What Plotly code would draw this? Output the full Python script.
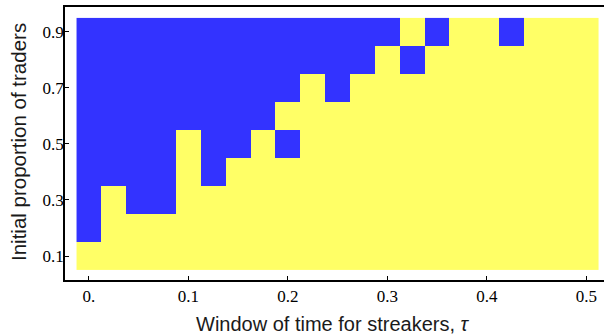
import plotly.graph_objects as go

# Data
tau = [round(i * 0.025, 3) for i in range(21)]          # window of time for streakers
proportion = [0.1, 0.2, 0.3, 0.4, 0.5, 0.6, 0.7, 0.8, 0.9]  # initial proportion of traders

# outcome per row (1 = blue, 0 = yellow), columns follow tau
row_01 = [0] * 21
row_02 = [1] + [0] * 20
row_03 = [1, 0, 1, 1] + [0] * 17
row_04 = [1, 1, 1, 1, 0, 1] + [0] * 15
row_05 = [1, 1, 1, 1, 0, 1, 1, 0, 1] + [0] * 12
row_06 = [1] * 8 + [0] * 13
row_07 = [1] * 9 + [0, 1] + [0] * 10
row_08 = [1] * 12 + [0, 1] + [0] * 7
row_09 = [1] * 13 + [0, 1, 0, 0, 1, 0, 0, 0]

x_tickvals = [0, 0.1, 0.2, 0.3, 0.4, 0.5]
x_ticktext = ["0.", "0.1", "0.2", "0.3", "0.4", "0.5"]
y_tickvals = [0.1, 0.3, 0.5, 0.7, 0.9]
y_ticktext = ["0.1", "0.3", "0.5", "0.7", "0.9"]

z = [row_01, row_02, row_03, row_04, row_05, row_06, row_07, row_08, row_09]

BLUE = "#3333FF"
YELLOW = "#FFFF66"

fig = go.Figure(go.Heatmap(
    x=tau, y=proportion, z=z,
    colorscale=[[0, YELLOW], [0.5, YELLOW], [0.5, BLUE], [1, BLUE]],
    zmin=0, zmax=1, showscale=False, hoverinfo="skip",
))

tickfont = dict(family="Liberation Serif, Times New Roman, serif", size=17, color="#000000")

fig.update_layout(
    width=604, height=335,
    margin=dict(l=65, r=0, t=7, b=55, autoexpand=False),
    paper_bgcolor="white", plot_bgcolor="white",
    showlegend=False,
    xaxis=dict(
        range=[-0.0241, 0.5176], tickvals=x_tickvals, ticktext=x_ticktext,
        ticks="inside", ticklen=4, tickwidth=1, tickcolor="#000000",
        showline=True, linecolor="#000000", linewidth=1.6, mirror=True,
        showgrid=False, zeroline=False, tickfont=tickfont, automargin=False,
    ),
    yaxis=dict(
        range=[0.0143, 0.989], tickvals=y_tickvals, ticktext=y_ticktext,
        ticks="inside", ticklen=4, tickwidth=1, tickcolor="#000000",
        showline=True, linecolor="#000000", linewidth=1.6, mirror=False,
        showgrid=False, zeroline=False, tickfont=tickfont, automargin=False,
        ticklabelstandoff=-4,
    ),
    annotations=[
        dict(text="Window of time for streakers, <i>τ</i>", xref="paper", yref="paper",
             x=(333 - 65) / 539, y=-(324 - 280) / 273, xanchor="center", yanchor="middle",
             showarrow=False,
             font=dict(family="Liberation Sans, Arial, sans-serif", size=20, color="#1a1a1a")),
        dict(text="Initial proportion of traders", xref="paper", yref="paper",
             x=-(65 - 18) / 539, y=(280 - 142) / 273, xanchor="center", yanchor="middle",
             textangle=-90, showarrow=False,
             font=dict(family="Liberation Sans, Arial, sans-serif", size=20.5, color="#1a1a1a")),
    ],
)

fig.write_html("out.html", config={"displayModeBar": False},
               post_script="document.body.style.margin='0';")
